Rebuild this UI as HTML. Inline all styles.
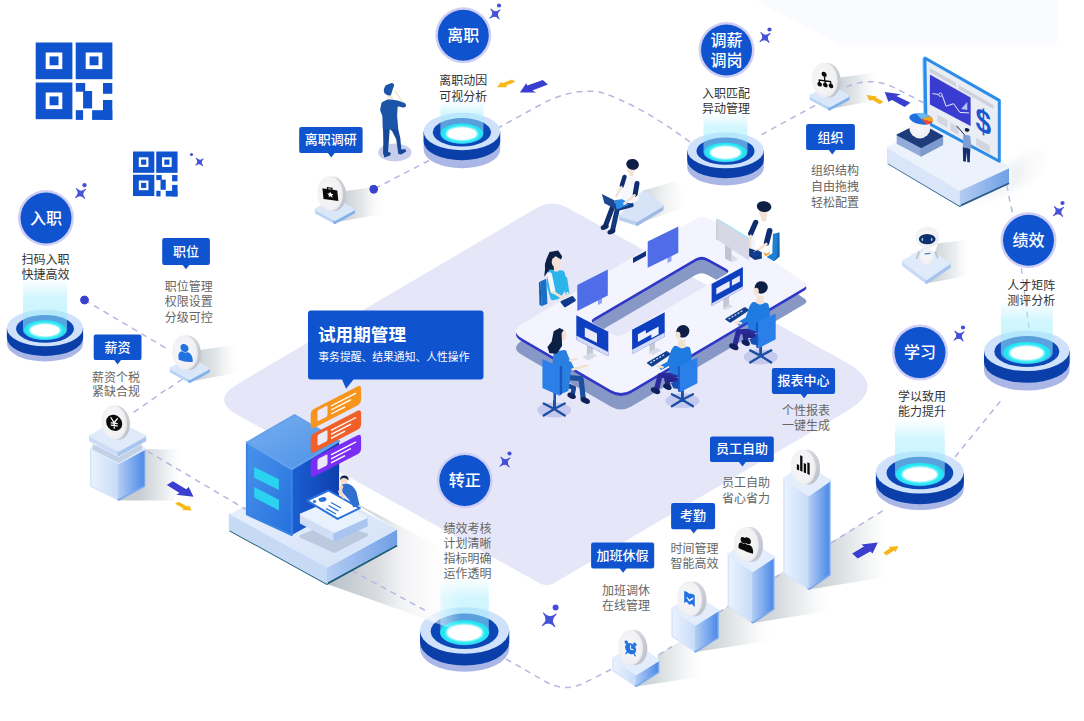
<!DOCTYPE html>
<html lang="zh"><head><meta charset="utf-8"><title>HR</title>
<style>
html,body{margin:0;padding:0;background:#fff}
body{width:1084px;height:721px;position:relative;overflow:hidden;font-family:"Liberation Sans",sans-serif}
svg{position:absolute;left:0;top:0;display:block}
.t{position:absolute;left:0;top:0;width:1084px;height:721px}
.t span{position:absolute;white-space:nowrap;line-height:1;color:transparent;overflow:hidden}
svg text.c{font-family:"Liberation Sans","Noto Sans CJK SC",sans-serif}
</style></head><body>
<div class="t"><span style="left:30.0px;top:209.7px;font-size:16px;width:34px">入职</span><span style="left:447.3px;top:27.0px;font-size:16px;width:34px">离职</span><span style="left:710.5px;top:31.7px;font-size:16px;width:34px">调薪</span><span style="left:710.5px;top:51.7px;font-size:16px;width:34px">调岗</span><span style="left:1012.5px;top:231.9px;font-size:16px;width:34px">绩效</span><span style="left:904.0px;top:344.3px;font-size:16px;width:34px">学习</span><span style="left:448.8px;top:472.2px;font-size:16px;width:34px">转正</span><span style="left:304.8px;top:132.8px;font-size:13px;width:54px">离职调研</span><span style="left:172.9px;top:244.6px;font-size:13px;width:28px">职位</span><span style="left:104.4px;top:340.8px;font-size:13px;width:28px">薪资</span><span style="left:817.6px;top:130.2px;font-size:13px;width:28px">组织</span><span style="left:777.4px;top:374.0px;font-size:13px;width:54px">报表中心</span><span style="left:716.0px;top:442.0px;font-size:13px;width:54px">员工自助</span><span style="left:680.0px;top:509.0px;font-size:13px;width:28px">考勤</span><span style="left:596.6px;top:548.2px;font-size:13px;width:54px">加班休假</span><span style="left:318.0px;top:325.1px;font-size:17px;width:90px">试用期管理</span><span style="left:318.3px;top:351.1px;font-size:10px;width:153px">事务提醒、结果通知、人性操作</span><span style="left:21.6px;top:253.8px;font-size:12px;width:50px">扫码入职</span><span style="left:21.6px;top:268.8px;font-size:12px;width:50px">快捷高效</span><span style="left:439.3px;top:74.8px;font-size:12px;width:50px">离职动因</span><span style="left:439.3px;top:90.3px;font-size:12px;width:50px">可视分析</span><span style="left:702.0px;top:87.2px;font-size:12px;width:50px">入职匹配</span><span style="left:702.0px;top:102.0px;font-size:12px;width:50px">异动管理</span><span style="left:1007.3px;top:279.7px;font-size:12px;width:50px">人才矩阵</span><span style="left:1007.3px;top:294.1px;font-size:12px;width:50px">测评分析</span><span style="left:898.1px;top:390.3px;font-size:12px;width:50px">学以致用</span><span style="left:898.1px;top:405.8px;font-size:12px;width:50px">能力提升</span><span style="left:164.8px;top:280.5px;font-size:12px;width:50px">职位管理</span><span style="left:164.8px;top:295.8px;font-size:12px;width:50px">权限设置</span><span style="left:164.8px;top:311.1px;font-size:12px;width:50px">分级可控</span><span style="left:92.1px;top:371.1px;font-size:12px;width:50px">薪资个税</span><span style="left:92.1px;top:385.9px;font-size:12px;width:50px">紧缺合规</span><span style="left:811.0px;top:164.6px;font-size:12px;width:50px">组织结构</span><span style="left:811.0px;top:180.3px;font-size:12px;width:50px">自由拖拽</span><span style="left:811.0px;top:196.0px;font-size:12px;width:50px">轻松配置</span><span style="left:782.0px;top:404.7px;font-size:12px;width:50px">个性报表</span><span style="left:782.0px;top:419.0px;font-size:12px;width:50px">一键生成</span><span style="left:722.0px;top:476.8px;font-size:12px;width:50px">员工自助</span><span style="left:722.0px;top:492.4px;font-size:12px;width:50px">省心省力</span><span style="left:670.4px;top:542.2px;font-size:12px;width:50px">时间管理</span><span style="left:670.4px;top:557.4px;font-size:12px;width:50px">智能高效</span><span style="left:602.0px;top:584.0px;font-size:12px;width:50px">加班调休</span><span style="left:602.0px;top:599.3px;font-size:12px;width:50px">在线管理</span><span style="left:443.6px;top:522.3px;font-size:12px;width:50px">绩效考核</span><span style="left:443.6px;top:537.3px;font-size:12px;width:50px">计划清晰</span><span style="left:443.6px;top:552.3px;font-size:12px;width:50px">指标明确</span><span style="left:443.6px;top:567.3px;font-size:12px;width:50px">运作透明</span></div>
<svg width="1084" height="721" viewBox="0 0 1084 721"><defs>
<linearGradient id="beam" x1="0" y1="0" x2="0" y2="1"><stop offset="0" stop-color="#b5f2ff" stop-opacity="0"/><stop offset="0.3" stop-color="#a8eefc" stop-opacity="0.5"/><stop offset="1" stop-color="#8ee9fb" stop-opacity="0.6"/></linearGradient>
<linearGradient id="colg" x1="0" y1="0" x2="1" y2="0"><stop offset="0" stop-color="#e6f0fd"/><stop offset="0.45" stop-color="#c3d9f8"/><stop offset="1" stop-color="#5a94ea"/></linearGradient>
<linearGradient id="shR" x1="0" y1="0" x2="1" y2="0"><stop offset="0" stop-color="#c6cdd1" stop-opacity="1"/><stop offset="0.3" stop-color="#d2d8db" stop-opacity="0.95"/><stop offset="0.65" stop-color="#e6e9eb" stop-opacity="0.7"/><stop offset="1" stop-color="#f8f9f9" stop-opacity="0"/></linearGradient>
<linearGradient id="srvL" x1="0" y1="0" x2="1" y2="1"><stop offset="0" stop-color="#4a93ea"/><stop offset="1" stop-color="#2471dd"/></linearGradient>
<linearGradient id="srvR" x1="0" y1="0" x2="1" y2="0"><stop offset="0" stop-color="#1c5fd2"/><stop offset="1" stop-color="#0d3fae"/></linearGradient>
<linearGradient id="srvT" x1="0" y1="0" x2="1" y2="1"><stop offset="0" stop-color="#78b0f0"/><stop offset="1" stop-color="#4a8fe7"/></linearGradient>
<linearGradient id="platR" x1="0" y1="0" x2="1" y2="0"><stop offset="0" stop-color="#b4cdf3"/><stop offset="1" stop-color="#6f9fe6"/></linearGradient>
<linearGradient id="platT" x1="0" y1="0" x2="1" y2="1"><stop offset="0" stop-color="#e9f1fc"/><stop offset="1" stop-color="#d3e2f8"/></linearGradient>
<linearGradient id="colL" x1="0" y1="0" x2="1" y2="0"><stop offset="0" stop-color="#eaf2fd"/><stop offset="1" stop-color="#c6dbf8"/></linearGradient>
<linearGradient id="colR" x1="0" y1="0" x2="1" y2="0"><stop offset="0" stop-color="#b3cdf4"/><stop offset="1" stop-color="#4f8be8"/></linearGradient>
<linearGradient id="rim" x1="0" y1="0" x2="1" y2="1"><stop offset="0" stop-color="#e4e6ea"/><stop offset="1" stop-color="#b9bdc6"/></linearGradient>
<linearGradient id="shR2" gradientUnits="userSpaceOnUse" x1="330" y1="0" x2="460" y2="0"><stop offset="0" stop-color="#b9c0c9" stop-opacity="1"/><stop offset="0.38" stop-color="#d9dde1" stop-opacity="0.97"/><stop offset="0.55" stop-color="#f1f2f4" stop-opacity="0.95"/><stop offset="0.75" stop-color="#fafafb" stop-opacity="0.8"/><stop offset="1" stop-color="#ffffff" stop-opacity="0"/></linearGradient>
<radialGradient id="coin" cx="0.45" cy="0.45" r="0.6"><stop offset="0" stop-color="#f8f8f9"/><stop offset="0.8" stop-color="#f1f1f3"/><stop offset="1" stop-color="#e3e4e8"/></radialGradient>
<filter id="blur2" x="-30%" y="-30%" width="160%" height="160%"><feGaussianBlur stdDeviation="1.1"/></filter>
<filter id="blur4" x="-30%" y="-30%" width="160%" height="160%"><feGaussianBlur stdDeviation="4"/></filter>
<linearGradient id="shD" gradientUnits="userSpaceOnUse" x1="1000" y1="0" x2="1060" y2="0"><stop offset="0" stop-color="#d9dde2" stop-opacity="0.8"/><stop offset="1" stop-color="#ffffff" stop-opacity="0"/></linearGradient><linearGradient id="shs334" gradientUnits="userSpaceOnUse" x1="342.1" y1="0" x2="384.1" y2="0"><stop offset="0" stop-color="#c3cbd0" stop-opacity="0.95"/><stop offset="0.5" stop-color="#dfe3e6" stop-opacity="0.8"/><stop offset="1" stop-color="#f6f7f8" stop-opacity="0"/></linearGradient><linearGradient id="shs189" gradientUnits="userSpaceOnUse" x1="197.0" y1="0" x2="239.0" y2="0"><stop offset="0" stop-color="#c3cbd0" stop-opacity="0.95"/><stop offset="0.5" stop-color="#dfe3e6" stop-opacity="0.8"/><stop offset="1" stop-color="#f6f7f8" stop-opacity="0"/></linearGradient><linearGradient id="shs829" gradientUnits="userSpaceOnUse" x1="836.8" y1="0" x2="878.8" y2="0"><stop offset="0" stop-color="#c3cbd0" stop-opacity="0.95"/><stop offset="0.5" stop-color="#dfe3e6" stop-opacity="0.8"/><stop offset="1" stop-color="#f6f7f8" stop-opacity="0"/></linearGradient><linearGradient id="shY" gradientUnits="userSpaceOnUse" x1="140" y1="0" x2="182" y2="0"><stop offset="0" stop-color="#c3cad0" stop-opacity="0.95"/><stop offset="0.6" stop-color="#e2e6e9" stop-opacity="0.7"/><stop offset="1" stop-color="#f6f7f8" stop-opacity="0"/></linearGradient><linearGradient id="shRb" gradientUnits="userSpaceOnUse" x1="935" y1="0" x2="970" y2="0"><stop offset="0" stop-color="#c9d0d4" stop-opacity="0.9"/><stop offset="0.6" stop-color="#e4e8ea" stop-opacity="0.7"/><stop offset="1" stop-color="#f8f9f9" stop-opacity="0"/></linearGradient><linearGradient id="shC" gradientUnits="userSpaceOnUse" x1="645" y1="0" x2="690" y2="0"><stop offset="0" stop-color="#cdd3d6" stop-opacity="0.9"/><stop offset="1" stop-color="#f8f9f9" stop-opacity="0"/></linearGradient></defs><rect width="1084" height="721" fill="#ffffff"/>
<polygon points="755,0 841,45 1057,45 1057,0" fill="#fafbfe"/>
<path d="M237.7,415.0 Q210.6,399.9 237.3,384.2 L535.4,208.7 Q551.8,199.1 568.4,208.3 L845.6,362.0 Q889.3,386.2 846.2,411.5 L553.6,583.2 Q546.7,587.2 539.7,583.3Z" fill="#e5e6f8"/>
<path d="M84.5,300 L170,350.5" fill="none" stroke="#b8b6df" stroke-width="1.5" stroke-dasharray="6 5" stroke-linecap="butt"/>
<path d="M182.5,379 L166,390.5" fill="none" stroke="#b8b6df" stroke-width="1.5" stroke-dasharray="6 5" stroke-linecap="butt"/>
<path d="M506,659 L548,683 Q566,692 584,683 L612,669" fill="none" stroke="#b8b6df" stroke-width="1.5" stroke-dasharray="6 5" stroke-linecap="butt"/>
<path d="M955,457 L1003,398" fill="none" stroke="#b8b6df" stroke-width="1.5" stroke-dasharray="6 5" stroke-linecap="butt"/>
<path d="M1007,185 Q1009,200 1013.5,216" fill="none" stroke="#b8b6df" stroke-width="1.5" stroke-dasharray="6 5" stroke-linecap="butt"/>
<path d="M1021.4,268 L1029.5,333" fill="none" stroke="#b8b6df" stroke-width="1.2" stroke-dasharray="6 5" stroke-linecap="butt"/>
<path d="M815,105.5 L759,136" fill="none" stroke="#b8b6df" stroke-width="1.5" stroke-dasharray="6 5" stroke-linecap="butt"/>
<path d="M690,142 Q640,105 600,92 Q570,88 540,105 L498,128" fill="none" stroke="#b8b6df" stroke-width="1.5" stroke-dasharray="6 5" stroke-linecap="butt"/>
<path d="M429,160.5 L374,189" fill="none" stroke="#b8b6df" stroke-width="1.5" stroke-dasharray="6 5" stroke-linecap="butt"/>
<circle cx="84.5" cy="300" r="4.2" fill="#3b40cf"/><circle cx="373.7" cy="189.3" r="4.2" fill="#3b40cf"/>
<path d="M6.9,328.0 v15.2 a38.1,18.3 0 0 0 76.2,0 v-15.2 z" fill="#a9b6e6"/><path d="M6.9,328.0 v9.7 a38.1,18.3 0 0 0 76.2,0 v-9.7 z" fill="#0a3ea8"/><ellipse cx="45.0" cy="328.0" rx="38.1" ry="18.3" fill="#cfe1fb"/><ellipse cx="45.0" cy="328.8" rx="29.0" ry="13.9" fill="#0c47b8"/><path d="M23.0,278.0 V330.0 a22.0,10.1 0 0 0 44.0,0 V278.0 z" fill="url(#beam)"/><ellipse cx="45.0" cy="330.0" rx="21.0" ry="9.7" fill="#22e6f5"/><ellipse cx="45.0" cy="330.2" rx="15.6" ry="6.8" fill="#ffffff" filter="url(#blur2)"/><ellipse cx="45.0" cy="330.2" rx="14.1" ry="6.0" fill="#ffffff"/>
<path d="M423.6,131.5 v18.0 a38.3,18.8 0 0 0 76.6,0 v-18.0 z" fill="#a9b6e6"/><path d="M423.6,131.5 v10.0 a38.3,18.8 0 0 0 76.6,0 v-10.0 z" fill="#0a3ea8"/><ellipse cx="461.9" cy="131.5" rx="38.3" ry="18.8" fill="#cfe1fb"/><ellipse cx="461.9" cy="132.3" rx="29.1" ry="14.2" fill="#0c47b8"/><path d="M440.4,100.0 V133.5 a21.5,10.3 0 0 0 43.0,0 V100.0 z" fill="url(#beam)"/><ellipse cx="461.9" cy="133.5" rx="21.1" ry="9.9" fill="#22e6f5"/><ellipse cx="461.9" cy="133.7" rx="15.7" ry="6.9" fill="#ffffff" filter="url(#blur2)"/><ellipse cx="461.9" cy="133.7" rx="14.2" ry="6.2" fill="#ffffff"/>
<path d="M687.2,150.3 v17.1 a38.3,18.0 0 0 0 76.6,0 v-17.1 z" fill="#a9b6e6"/><path d="M687.2,150.3 v9.9 a38.3,18.0 0 0 0 76.6,0 v-9.9 z" fill="#0a3ea8"/><ellipse cx="725.5" cy="150.3" rx="38.3" ry="18.0" fill="#cfe1fb"/><ellipse cx="725.5" cy="151.1" rx="29.1" ry="13.7" fill="#0c47b8"/><path d="M703.5,112.0 V152.3 a22.0,9.9 0 0 0 44.0,0 V112.0 z" fill="url(#beam)"/><ellipse cx="725.5" cy="152.3" rx="21.1" ry="9.5" fill="#22e6f5"/><ellipse cx="725.5" cy="152.5" rx="15.7" ry="6.7" fill="#ffffff" filter="url(#blur2)"/><ellipse cx="725.5" cy="152.5" rx="14.2" ry="5.9" fill="#ffffff"/>
<path d="M984.0,350.7 v19.5 a42.8,20.3 0 0 0 85.6,0 v-19.5 z" fill="#a9b6e6"/><path d="M984.0,350.7 v11.7 a42.8,20.3 0 0 0 85.6,0 v-11.7 z" fill="#0a3ea8"/><ellipse cx="1026.8" cy="350.7" rx="42.8" ry="20.3" fill="#cfe1fb"/><ellipse cx="1026.8" cy="351.5" rx="32.5" ry="15.4" fill="#0c47b8"/><path d="M1000.9,300.0 V352.7 a25.9,11.2 0 0 0 51.8,0 V300.0 z" fill="url(#beam)"/><ellipse cx="1026.8" cy="352.7" rx="23.5" ry="10.8" fill="#22e6f5"/><ellipse cx="1026.8" cy="352.9" rx="17.5" ry="7.5" fill="#ffffff" filter="url(#blur2)"/><ellipse cx="1026.8" cy="352.9" rx="15.8" ry="6.7" fill="#ffffff"/>
<path d="M875.9,472.2 v16.5 a44.0,21.3 0 0 0 88.0,0 v-16.5 z" fill="#a9b6e6"/><path d="M875.9,472.2 v10.7 a44.0,21.3 0 0 0 88.0,0 v-10.7 z" fill="#0a3ea8"/><ellipse cx="919.9" cy="472.2" rx="44.0" ry="21.3" fill="#cfe1fb"/><ellipse cx="919.9" cy="473.0" rx="33.4" ry="16.2" fill="#0c47b8"/><path d="M895.0,418.0 V474.2 a24.9,11.7 0 0 0 49.8,0 V418.0 z" fill="url(#beam)"/><ellipse cx="919.9" cy="474.2" rx="24.2" ry="11.3" fill="#22e6f5"/><ellipse cx="919.9" cy="474.4" rx="18.0" ry="7.9" fill="#ffffff" filter="url(#blur2)"/><ellipse cx="919.9" cy="474.4" rx="16.3" ry="7.0" fill="#ffffff"/>
<path d="M420.0,630.5 v18.0 a44.6,23.3 0 0 0 89.2,0 v-18.0 z" fill="#a9b6e6"/><path d="M420.0,630.5 v11.7 a44.6,23.3 0 0 0 89.2,0 v-11.7 z" fill="#0a3ea8"/><ellipse cx="464.6" cy="630.5" rx="44.6" ry="23.3" fill="#cfe1fb"/><ellipse cx="464.6" cy="631.3" rx="33.9" ry="17.7" fill="#0c47b8"/><path d="M440.4,576.0 V632.5 a24.2,12.8 0 0 0 48.4,0 V576.0 z" fill="url(#beam)"/><ellipse cx="464.6" cy="632.5" rx="24.5" ry="12.3" fill="#22e6f5"/><ellipse cx="464.6" cy="632.7" rx="18.3" ry="8.6" fill="#ffffff" filter="url(#blur2)"/><ellipse cx="464.6" cy="632.7" rx="16.5" ry="7.7" fill="#ffffff"/>
<polygon points="657.6,655.0 703.6,627.1 703.6,676.4 636.1,686.4 657.6,672.8" fill="url(#shR)"/>
<polygon points="717.1,613.0 773.1,578.9 773.1,640.1 695.6,652.1 717.1,639.4" fill="url(#shR)"/>
<polygon points="772.8,578.0 831.8,542.0 831.8,610.4 752.7,623.0 772.8,609.0" fill="url(#shR)"/>
<polygon points="828.9,543.6 889.9,506.4 889.9,576.5 809.0,589.5 828.9,574.5" fill="url(#shR)"/>
<path d="M658.6,655 L672,646.5 M718,613 L728,606.5 M774.5,578 L784.5,571.5 M830.8,543 L884,510" fill="none" stroke="#b8b6df" stroke-width="1.5" stroke-dasharray="6 5" stroke-linecap="butt"/>
<polygon points="613.8,658.4 636.1,673.7 636.1,685.4 613.8,670.1" fill="url(#colL)" stroke="#d6e4fa" stroke-width="3.0" stroke-linejoin="round"/><polygon points="636.1,673.7 657.8,660.2 657.8,671.9 636.1,685.4" fill="url(#colR)" stroke="#7aa8ee" stroke-width="3.0" stroke-linejoin="round"/><polygon points="613.8,658.4 636.1,673.7 636.1,685.4 613.8,670.1" fill="url(#colL)"/><polygon points="635.6,673.7 657.8,660.2 657.8,671.9 635.6,685.4" fill="url(#colR)"/><polygon points="613.8,658.4 635.5,644.9 657.8,660.2 636.1,673.7" fill="#e3edfc" stroke="#e3edfc" stroke-width="3.0" stroke-linejoin="round"/>
<polygon points="672.9,608.8 695.6,624.1 695.6,651.1 672.9,635.8" fill="url(#colL)" stroke="#d6e4fa" stroke-width="3.0" stroke-linejoin="round"/><polygon points="695.6,624.1 717.3,610.6 717.3,637.6 695.6,651.1" fill="url(#colR)" stroke="#7aa8ee" stroke-width="3.0" stroke-linejoin="round"/><polygon points="672.9,608.8 695.6,624.1 695.6,651.1 672.9,635.8" fill="url(#colL)"/><polygon points="695.1,624.1 717.3,610.6 717.3,637.6 695.1,651.1" fill="url(#colR)"/><polygon points="672.9,608.8 694.6,595.3 717.3,610.6 695.6,624.1" fill="#e3edfc" stroke="#e3edfc" stroke-width="3.0" stroke-linejoin="round"/>
<polygon points="729.1,554.4 752.7,570.5 752.7,622.0 729.1,605.9" fill="url(#colL)" stroke="#d6e4fa" stroke-width="3.0" stroke-linejoin="round"/><polygon points="752.7,570.5 773.0,557.2 773.0,608.7 752.7,622.0" fill="url(#colR)" stroke="#7aa8ee" stroke-width="3.0" stroke-linejoin="round"/><polygon points="729.1,554.4 752.7,570.5 752.7,622.0 729.1,605.9" fill="url(#colL)"/><polygon points="752.2,570.5 773.0,557.2 773.0,608.7 752.2,622.0" fill="url(#colR)"/><polygon points="729.1,554.4 749.4,541.1 773.0,557.2 752.7,570.5" fill="#e3edfc" stroke="#e3edfc" stroke-width="3.0" stroke-linejoin="round"/>
<polygon points="784.7,478.8 809.0,494.5 809.0,588.5 784.7,572.8" fill="url(#colL)" stroke="#d6e4fa" stroke-width="3.0" stroke-linejoin="round"/><polygon points="809.0,494.5 829.1,480.5 829.1,574.5 809.0,588.5" fill="url(#colR)" stroke="#7aa8ee" stroke-width="3.0" stroke-linejoin="round"/><polygon points="784.7,478.8 809.0,494.5 809.0,588.5 784.7,572.8" fill="url(#colL)"/><polygon points="808.5,494.5 829.1,480.5 829.1,574.5 808.5,588.5" fill="url(#colR)"/><polygon points="784.7,478.8 804.8,464.8 829.1,480.5 809.0,494.5" fill="#e3edfc" stroke="#e3edfc" stroke-width="3.0" stroke-linejoin="round"/>
<g transform="rotate(-5.0 630.6 647.5)"><ellipse cx="634.9" cy="647.9" rx="12.4" ry="17.5" fill="url(#rim)"/><ellipse cx="630.6" cy="647.5" rx="12.4" ry="17.5" fill="url(#coin)"/></g>
<g transform="rotate(-5.0 689.7 598.9)"><ellipse cx="694.0" cy="599.3" rx="12.4" ry="17.5" fill="url(#rim)"/><ellipse cx="689.7" cy="598.9" rx="12.4" ry="17.5" fill="url(#coin)"/></g>
<g transform="rotate(-5.0 746.3 544.4)"><ellipse cx="750.6" cy="544.8" rx="12.4" ry="17.5" fill="url(#rim)"/><ellipse cx="746.3" cy="544.4" rx="12.4" ry="17.5" fill="url(#coin)"/></g>
<g transform="rotate(-5.0 803.3 467.2)"><ellipse cx="807.6" cy="467.6" rx="12.4" ry="17.5" fill="url(#rim)"/><ellipse cx="803.3" cy="467.2" rx="12.4" ry="17.5" fill="url(#coin)"/></g>
<polygon points="350,500 460,557 460,632 420,617 327,584 397,546 397,530" fill="url(#shR2)"/>
<path d="M352,570.5 L428,612" fill="none" stroke="#b8b6df" stroke-width="1.5" stroke-dasharray="6 5" stroke-linecap="butt"/>
<polyline points="229.8,530.2 326.9,583.8 397.1,545.4" fill="none" stroke="#1d5d78" stroke-width="2.2" stroke-linejoin="round"/><polygon points="229.8,514.4 326.9,567.8 326.9,582.8 229.8,529.4" fill="#c6daf6" stroke="#c6daf6" stroke-width="2.0" stroke-linejoin="round"/><polygon points="326.9,567.8 397.1,529.6 397.1,544.6 326.9,582.8" fill="url(#platR)" stroke="none" stroke-width="2.0" stroke-linejoin="round"/><polygon points="229.8,514.4 300.0,476.2 397.1,529.6 326.9,567.8" fill="url(#platT)" stroke="none" stroke-width="2.0" stroke-linejoin="round"/>
<polygon points="300.9,536.5 333.0,523.5 366.6,535.0 334.5,551.5" fill="#bccadf" stroke="#bccadf" stroke-width="3" stroke-linejoin="round"/>
<polygon points="291.8,469.2 339.1,441.1 339.1,509.0 291.8,535.0" fill="url(#srvR)" /><polygon points="246.9,442.6 291.8,469.2 291.8,535.0 246.9,514.4" fill="url(#srvL)" stroke="#3883e4" stroke-width="2" stroke-linejoin="round"/><polygon points="246.9,442.6 294.5,415.0 339.1,441.1 291.8,469.2" fill="url(#srvT)" stroke="#64a2ee" stroke-width="2" stroke-linejoin="round"/><path d="M254.2,467.0 L278.9,479.2 L278.9,489.9 L254.2,477.7Z" fill="#2bd3f0"/><path d="M254.2,486.9 L278.9,499.7 L278.9,510.4 L254.2,497.6Z" fill="#2bd3f0"/>
<polygon points="300.9,514.4 334.5,531.8 334.5,540.3 300.9,522.9" fill="#cfdef6" stroke="#cfdef6" stroke-width="2.0" stroke-linejoin="round"/><polygon points="334.5,531.8 366.6,517.4 366.6,525.9 334.5,540.3" fill="#a9c5ef" stroke="#a9c5ef" stroke-width="2.0" stroke-linejoin="round"/><polygon points="300.9,514.4 333.0,500.6 366.6,517.4 334.5,531.8" fill="#e9f1fc" stroke="#e9f1fc" stroke-width="2.0" stroke-linejoin="round"/>
<polygon points="307.0,500.6 328.4,490.5 359.8,508.2 337.6,518.9" fill="#ffffff" stroke="#2a72dd" stroke-width="2" stroke-linejoin="round"/>
<ellipse cx="322.5" cy="499.5" rx="4" ry="2.3" fill="#2a72dd" transform="rotate(-8 322.5 499.5)"/>
<circle cx="314.5" cy="501.5" r="1.6" fill="#2a72dd"/>
<path d="M331,502.5 l10,5.5 M328.5,505.5 l10,5.5 M326,508.5 l10,5.5" stroke="#2a72dd" stroke-width="1.4" fill="none"/>
<path d="M341.5,485 q3,-3 7,-1 q5,1.5 8,8 l3,13 l-6,2.5 l-4,-7 l-7,-8 z" fill="#2f6fd0"/>
<path d="M341,484 l-3,8 l5,7 l2,-1.5 l-3.5,-6 l2,-5z" fill="#f1d6c4"/>
<circle cx="343.6" cy="480.6" r="3.6" fill="#f4dccb"/><path d="M340,480 q0,-5 5,-4.5 q4,0.5 3.5,5 q-2,-3 -5,-2.5 q-2,0 -3.5,2z" fill="#0f2350"/>
<path d="M310.7,414.6 Q310.7,410.6 314.3,408.8 L357.5,386.4 Q361.1,384.6 361.1,388.6 L361.1,399.6 Q361.1,403.6 357.5,405.4 L314.3,427.8 Q310.7,429.6 310.7,425.6Z" fill="#f7941e"/>
<path d="M317.5,412.0 Q317.5,410.5 318.8,409.8 L326.2,406.0 Q327.5,405.3 327.5,406.8 L327.5,414.8 Q327.5,416.3 326.2,417.0 L318.8,420.8 Q317.5,421.5 317.5,420.0Z" fill="#ebe8f7"/>
<path d="M331,406.0 l25,-12.9 M331,410.0 l20,-10.3 M331,414.0 l14,-7.2" stroke="#fff" stroke-width="1.4" fill="none"/>
<path d="M310.7,439.0 Q310.7,435.0 314.3,433.2 L357.5,410.8 Q361.1,409.0 361.1,413.0 L361.1,424.0 Q361.1,428.0 357.5,429.8 L314.3,452.2 Q310.7,454.0 310.7,450.0Z" fill="#f2602a"/>
<path d="M317.5,436.4 Q317.5,434.9 318.8,434.2 L326.2,430.4 Q327.5,429.7 327.5,431.2 L327.5,439.2 Q327.5,440.7 326.2,441.4 L318.8,445.2 Q317.5,445.9 317.5,444.4Z" fill="#ebe8f7"/>
<path d="M331,430.4 l25,-12.9 M331,434.4 l20,-10.3 M331,438.4 l14,-7.2" stroke="#fff" stroke-width="1.4" fill="none"/>
<path d="M310.7,463.4 Q310.7,459.4 314.3,457.6 L357.5,435.2 Q361.1,433.4 361.1,437.4 L361.1,448.4 Q361.1,452.4 357.5,454.2 L314.3,476.6 Q310.7,478.4 310.7,474.4Z" fill="#7a2df5"/>
<path d="M317.5,460.8 Q317.5,459.3 318.8,458.6 L326.2,454.8 Q327.5,454.1 327.5,455.6 L327.5,463.6 Q327.5,465.1 326.2,465.8 L318.8,469.6 Q317.5,470.3 317.5,468.8Z" fill="#ebe8f7"/>
<path d="M331,454.8 l25,-12.9 M331,458.8 l20,-10.3 M331,462.8 l14,-7.2" stroke="#fff" stroke-width="1.4" fill="none"/>
<path d="M522.1,338.5 Q510.0,331.5 522.0,324.2 L692.8,220.2 Q703.0,214.0 713.0,220.7 L804.0,281.7 Q809.0,285.0 803.8,288.1 L631.3,389.9 Q621.0,396.0 610.6,390.0Z M594.2,323.9 Q589.0,321.0 594.2,318.0 L695.6,258.5 Q701.6,255.0 707.7,258.4 L725.8,268.4 Q731.0,271.3 725.8,274.3 L623.6,334.3 Q618.4,337.3 613.2,334.4Z" fill="#8798c7" fill-rule="evenodd" transform="translate(0,16.5)"/>
<path d="M522.1,338.5 Q510.0,331.5 522.0,324.2 L692.8,220.2 Q703.0,214.0 713.0,220.7 L804.0,281.7 Q809.0,285.0 803.8,288.1 L631.3,389.9 Q621.0,396.0 610.6,390.0Z M594.2,323.9 Q589.0,321.0 594.2,318.0 L695.6,258.5 Q701.6,255.0 707.7,258.4 L725.8,268.4 Q731.0,271.3 725.8,274.3 L623.6,334.3 Q618.4,337.3 613.2,334.4Z" fill="#2f38c6" fill-rule="evenodd" transform="translate(0,3)"/>
<path d="M522.1,338.5 Q510.0,331.5 522.0,324.2 L692.8,220.2 Q703.0,214.0 713.0,220.7 L804.0,281.7 Q809.0,285.0 803.8,288.1 L631.3,389.9 Q621.0,396.0 610.6,390.0Z M594.2,323.9 Q589.0,321.0 594.2,318.0 L695.6,258.5 Q701.6,255.0 707.7,258.4 L725.8,268.4 Q731.0,271.3 725.8,274.3 L623.6,334.3 Q618.4,337.3 613.2,334.4Z" fill="#f3f4fd" fill-rule="evenodd"/>
<polygon points="772.4,234.1 779.0,232.4 779.5,256.6 774.0,261.2 766.6,256.9 772.4,253.2" fill="#1f7fd0" />
<polygon points="774.0,261.2 779.5,256.6 779.5,232.4 777.9,232.9 776.9,255.7" fill="#1566b0" />
<polygon points="749.1,247.4 761.6,252.4 761.9,258.6 754.9,259.9 748.6,255.7" fill="#103a80" />
<polygon points="762.4,251.6 769.1,249.9 769.9,254.1 765.7,256.2" fill="#f5a020" />
<path d="M753.4,222.7 Q754.1,220.8 756.0,221.4 L771.3,226.8 Q773.2,227.4 773.1,229.4 L772.5,242.9 Q772.4,244.9 771.6,246.7 L769.0,252.2 Q768.2,254.1 766.3,253.5 L751.8,249.1 Q749.9,248.6 749.9,246.6 L749.9,235.3 Q749.9,233.3 750.5,231.4Z" fill="#f4f5fb" />
<path d="M757.0,224.4 Q757.4,222.4 759.3,223.1 L770.7,227.3 Q772.5,227.9 772.4,229.9 L771.8,242.6 Q771.7,244.6 770.9,246.4 L768.7,251.1 Q767.9,252.9 766.0,252.3 L756.8,249.6 Q754.9,249.1 754.9,247.1 L754.9,235.6 Q754.9,233.6 755.3,231.6Z" fill="#ffffff" />
<polyline points="755.7,222.4 750.7,233.6" fill="none" stroke="#0f2c6e" stroke-width="5.2" stroke-linecap="round" stroke-linejoin="round"/>
<polyline points="769.6,230.8 766.6,242.9" fill="none" stroke="#0f2c6e" stroke-width="5.6" stroke-linecap="round" stroke-linejoin="round"/>
<polyline points="766.2,244.1 754.9,252.4" fill="none" stroke="#f3e2d3" stroke-width="2.8" stroke-linecap="round" stroke-linejoin="round"/>
<polyline points="750.7,235.8 749.9,247.4" fill="none" stroke="#f3e2d3" stroke-width="2.4" stroke-linecap="round" stroke-linejoin="round"/>
<polygon points="760.2,213.3 766.9,215.0 766.2,221.6 761.2,220.8" fill="#f3e2d3" />
<ellipse cx="763.2" cy="212.5" rx="4.2" ry="5.0" fill="#f3e2d3" transform="rotate(0.0 763.2 212.5)" />
<ellipse cx="764.1" cy="206.6" rx="7.3" ry="5.4" fill="#0d1f45" transform="rotate(8.0 764.1 206.6)" />
<path d="M750.9,254.7 Q749.9,254.1 751.0,253.5 L756.4,250.5 Q757.4,249.9 758.4,250.5 L761.4,252.3 Q762.4,252.9 761.4,253.5 L755.9,256.8 Q754.9,257.4 753.9,256.7Z" fill="#12408f" />
<polygon points="540.5,281.3 546.3,278.7 547.4,303.7 541.6,306.3" fill="#1a6fc8" />
<polygon points="540.5,281.3 541.6,306.3 539.5,304.7 538.9,282.6" fill="#1558a8" />
<ellipse cx="551.1" cy="264.2" rx="6.0" ry="8.5" fill="#0d1f45" transform="rotate(20.0 551.1 264.2)" />
<path d="M548.1,271.5 Q548.4,269.5 550.4,269.6 L562.2,270.6 Q564.2,270.8 564.7,272.7 L567.4,284.6 Q567.9,286.6 566.8,288.2 L560.6,297.3 Q559.5,298.9 557.5,299.3 L553.0,300.2 Q551.1,300.5 550.5,298.6 L546.9,285.9 Q546.3,283.9 546.6,282.0Z" fill="#2bb5ea" />
<polyline points="549.5,274.7 552.9,291.1" fill="none" stroke="#f4f6ff" stroke-width="5.0" stroke-linecap="round" stroke-linejoin="round"/>
<polyline points="565.3,278.7 567.4,293.2" fill="none" stroke="#2bb5ea" stroke-width="4.0" stroke-linecap="round" stroke-linejoin="round"/>
<polyline points="553.2,292.1 564.2,298.9" fill="none" stroke="#f3e2d3" stroke-width="2.6" stroke-linecap="round" stroke-linejoin="round"/>
<polyline points="567.4,293.2 568.7,298.9" fill="none" stroke="#f3e2d3" stroke-width="2.4" stroke-linecap="round" stroke-linejoin="round"/>
<polygon points="553.7,266.8 558.9,266.8 558.4,271.6 554.2,271.6" fill="#f3e2d3" />
<ellipse cx="556.3" cy="262.1" rx="4.6" ry="5.4" fill="#f3e2d3" transform="rotate(0.0 556.3 262.1)" />
<path d="M546.3,259.5 L549.5,252.1 L558.2,250.5 L562.1,256.3 L561.1,259.5 L555.5,256.3 L551.1,258.4 L549.5,269.5 L544.2,276.8 L545.3,266.8Z" fill="#0d1f45"/>
<path d="M560.7,302.5 Q560.0,301.6 561.1,301.1 L571.5,296.3 Q572.6,295.8 573.4,296.7 L575.6,299.6 Q576.3,300.5 575.3,301.2 L565.8,307.0 Q564.7,307.6 564.0,306.7Z" fill="#0d3a8a" />
<path d="M598.0,289.0 v16.0 l4,-2 v-16.0 z" fill="#8fa3f2"/>
<path d="M577.3,284.9 L607.8,269.6 L607.8,295.6 L577.3,310.9Z" fill="#4f6de6"/>
<path d="M633.0,258.0 L646.0,251.0 L646.0,256.0 L633.0,263.0Z" fill="#0d2f80"/>
<path d="M667.5,246.0 v17.0 l4,-2 v-17.0 z" fill="#8fa3f2"/>
<path d="M647.7,241.4 L678.3,226.5 L678.3,252.8 L647.7,267.7Z" fill="#4f6de6"/>
<polygon points="725.0,243.2 731.6,246.6 731.6,261.9 725.0,258.6" fill="#c2c4d3" />
<polygon points="731.6,254.9 737.4,257.9 737.4,259.9 731.6,261.9" fill="#d9dbe6" />
<polygon points="717.5,219.1 749.1,238.3 749.1,260.7 717.5,239.9" fill="#d6d8e6" />
<polygon points="716.3,220.1 717.5,219.1 717.5,239.9 716.3,239.3" fill="#b9bccc" />
<polyline points="717.5,219.1 749.1,238.3" fill="none" stroke="#8fe9f2" stroke-width="1.0" stroke-linecap="round" stroke-linejoin="round"/>
<polygon points="586.9,343.4 593.0,346.4 593.0,358.6 586.9,356.2" fill="#c4c7d4" />
<polygon points="582.4,357.1 591.5,352.5 597.0,355.6 587.9,360.5" fill="#d8dae4" />
<polygon points="576.3,315.3 608.3,331.8 608.3,356.2 576.3,339.7" fill="#0e3fc0" />
<polygon points="576.3,335.4 608.3,351.9 608.3,356.2 576.3,339.7" fill="#d3dbf8" />
<polygon points="584.8,327.5 597.0,333.6 597.0,342.8 584.8,336.7" fill="#e9ebfb" />
<polygon points="649.5,343.4 655.0,340.9 655.0,351.0 649.5,353.4" fill="#c4c7d4" />
<polygon points="648.0,351.9 657.1,348.0 661.7,350.4 652.5,355.0" fill="#d8dae4" />
<polygon points="632.1,329.7 664.7,312.3 664.7,336.7 632.1,354.1" fill="#0e3fc0" />
<polygon points="632.1,349.8 664.7,332.4 664.7,336.7 632.1,354.1" fill="#d3dbf8" />
<path d="M637.9,334.2 L645.8,330.0 L645.8,333.6 L658.6,326.6 L658.6,334.2 L651.3,338.2 L651.3,334.5 L637.9,341.9Z" fill="#eef0fd"/>
<polygon points="723.3,298.2 729.1,295.2 729.1,306.5 723.3,309.0" fill="#c4c7d4" />
<polygon points="721.6,308.5 730.0,304.8 733.3,306.5 725.0,310.1" fill="#d8dae4" />
<polygon points="711.6,284.0 742.9,266.9 742.9,288.5 711.6,306.0" fill="#0e3fc0" />
<polygon points="711.6,303.6 742.9,286.2 742.9,288.5 711.6,306.0" fill="#d3dbf8" />
<polygon points="716.3,288.2 729.6,281.0 729.6,287.3 716.3,294.5" fill="#e9ebfb" />
<polygon points="731.9,279.9 739.9,275.5 739.9,281.5 731.9,285.8" fill="#e9ebfb" />
<path d="M647.3,363.6 Q646.3,362.9 647.4,362.3 L665.6,351.4 Q666.6,350.7 667.6,351.4 L670.3,353.4 Q671.3,354.1 670.3,354.7 L653.0,366.2 Q652.0,366.9 651.0,366.2Z" fill="#12408f" />
<polyline points="650.3,362.9 665.0,354.2" fill="none" stroke="#dfe6fb" stroke-width="1.2" stroke-dasharray="2 1.5"/>
<path d="M725.6,319.7 Q724.6,319.0 725.7,318.4 L743.9,307.5 Q744.9,306.8 745.9,307.5 L748.6,309.5 Q749.6,310.2 748.6,310.8 L731.3,322.3 Q730.3,323.0 729.3,322.3Z" fill="#12408f" />
<polyline points="728.6,319.0 743.3,310.3" fill="none" stroke="#dfe6fb" stroke-width="1.2" stroke-dasharray="2 1.5"/>
<ellipse cx="682.4" cy="400.8" rx="17" ry="7.5" fill="#c6c9ee"/>
<path d="M682.4,399.8 v-8 M682.4,399.8 l-10.5,6.5 M682.4,399.8 l10.5,-5.5 M682.4,399.8 l-10.5,-5.5 M682.4,399.8 l10.5,6.5" stroke="#1b4ea5" stroke-width="2.4" stroke-linecap="round" fill="none"/>
<polyline points="675.8,374.9 660.0,375.7 656.6,389.0" fill="none" stroke="#2b2a9a" stroke-width="5.2" stroke-linecap="round" stroke-linejoin="round"/>
<polyline points="675.8,379.9 666.6,379.0 668.3,386.5" fill="none" stroke="#26258a" stroke-width="5.0" stroke-linecap="round" stroke-linejoin="round"/>
<ellipse cx="655.5" cy="390.7" rx="5.0" ry="2.8" fill="#10205a" transform="rotate(25.0 655.5 390.7)" />
<ellipse cx="667.4" cy="386.8" rx="4.5" ry="2.6" fill="#10205a" transform="rotate(25.0 667.4 386.8)" />
<polygon points="670.8,383.2 681.6,378.2 683.6,389.8 673.3,388.2" fill="#174db5" />
<polyline points="682.4,389.8 682.4,399.5" fill="none" stroke="#1d4fa8" stroke-width="2.6" stroke-linecap="round" stroke-linejoin="round"/>
<polyline points="673.3,351.6 669.1,363.2 661.6,367.4" fill="none" stroke="#1f7be0" stroke-width="4.5" stroke-linecap="round" stroke-linejoin="round"/>
<polyline points="662.5,367.2 657.5,366.2" fill="none" stroke="#f3e2d3" stroke-width="2.6" stroke-linecap="round" stroke-linejoin="round"/>
<path d="M673.3,347.0 Q674.1,345.7 675.6,345.9 L688.4,346.8 Q689.9,346.9 690.2,348.4 L691.6,354.3 Q691.9,355.7 691.7,357.2 L690.1,368.4 Q689.9,369.9 688.6,370.7 L680.9,375.4 Q679.6,376.2 678.2,375.7 L671.7,373.7 Q670.3,373.2 670.0,371.7 L668.6,363.9 Q668.3,362.4 668.6,360.9 L670.9,351.4 Q671.3,349.9 672.1,348.7Z" fill="#1f7be0" />
<polygon points="678.6,339.1 685.3,339.9 685.7,347.4 681.6,348.6 677.4,346.6" fill="#f3e2d3" />
<ellipse cx="682.9" cy="331.3" rx="6.6" ry="6.2" fill="#0d1f45" transform="rotate(-20.0 682.9 331.3)" />
<ellipse cx="677.9" cy="335.3" rx="2.6" ry="3.6" fill="#f3e2d3" transform="rotate(0.0 677.9 335.3)" />
<polygon points="677.9,366.5 679.9,365.7 679.9,392.3 677.9,391.2" fill="#1a56c0" />
<polygon points="679.9,365.7 697.4,357.4 697.4,383.2 679.9,392.3" fill="#2a80e8" />
<ellipse cx="760.7" cy="356.9" rx="17" ry="7.5" fill="#c6c9ee"/>
<path d="M760.7,355.9 v-8 M760.7,355.9 l-10.5,6.5 M760.7,355.9 l10.5,-5.5 M760.7,355.9 l-10.5,-5.5 M760.7,355.9 l10.5,6.5" stroke="#1b4ea5" stroke-width="2.4" stroke-linecap="round" fill="none"/>
<polyline points="754.1,331.0 738.3,331.8 734.9,345.1" fill="none" stroke="#2b2a9a" stroke-width="5.2" stroke-linecap="round" stroke-linejoin="round"/>
<polyline points="754.1,336.0 744.9,335.1 746.6,342.6" fill="none" stroke="#26258a" stroke-width="5.0" stroke-linecap="round" stroke-linejoin="round"/>
<ellipse cx="733.8" cy="346.8" rx="5.0" ry="2.8" fill="#10205a" transform="rotate(25.0 733.8 346.8)" />
<ellipse cx="745.7" cy="342.9" rx="4.5" ry="2.6" fill="#10205a" transform="rotate(25.0 745.7 342.9)" />
<polygon points="749.1,339.3 759.9,334.3 761.9,345.9 751.6,344.3" fill="#174db5" />
<polyline points="760.7,345.9 760.7,355.6" fill="none" stroke="#1d4fa8" stroke-width="2.6" stroke-linecap="round" stroke-linejoin="round"/>
<polyline points="751.6,307.7 747.4,319.3 739.9,323.5" fill="none" stroke="#1f7be0" stroke-width="4.5" stroke-linecap="round" stroke-linejoin="round"/>
<polyline points="740.8,323.3 735.8,322.3" fill="none" stroke="#f3e2d3" stroke-width="2.6" stroke-linecap="round" stroke-linejoin="round"/>
<path d="M751.6,303.1 Q752.4,301.8 753.9,302.0 L766.7,302.9 Q768.2,303.0 768.5,304.5 L769.9,310.4 Q770.2,311.8 770.0,313.3 L768.4,324.5 Q768.2,326.0 766.9,326.8 L759.2,331.5 Q757.9,332.3 756.5,331.8 L750.0,329.8 Q748.6,329.3 748.3,327.8 L746.9,320.0 Q746.6,318.5 746.9,317.0 L749.2,307.5 Q749.6,306.0 750.4,304.8Z" fill="#1f7be0" />
<polygon points="756.9,295.2 763.6,296.0 764.0,303.5 759.9,304.7 755.7,302.7" fill="#f3e2d3" />
<ellipse cx="761.2" cy="287.4" rx="6.6" ry="6.2" fill="#0d1f45" transform="rotate(-20.0 761.2 287.4)" />
<ellipse cx="756.2" cy="291.4" rx="2.6" ry="3.6" fill="#f3e2d3" transform="rotate(0.0 756.2 291.4)" />
<polygon points="756.2,322.6 758.2,321.8 758.2,348.4 756.2,347.3" fill="#1a56c0" />
<polygon points="758.2,321.8 775.7,313.5 775.7,339.3 758.2,348.4" fill="#2a80e8" />
<ellipse cx="554.2" cy="410.0" rx="17" ry="7.5" fill="#c6c9ee"/>
<path d="M554.2,409.0 v-8 M554.2,409.0 l-10.5,6.5 M554.2,409.0 l10.5,-5.5 M554.2,409.0 l-10.5,-5.5 M554.2,409.0 l10.5,6.5" stroke="#1b4ea5" stroke-width="2.4" stroke-linecap="round" fill="none"/>
<polyline points="566.1,377.4 581.1,378.7 583.2,398.4" fill="none" stroke="#1d4fa0" stroke-width="5.2" stroke-linecap="round" stroke-linejoin="round"/>
<polyline points="567.4,385.3 573.9,387.9 572.6,394.5" fill="none" stroke="#1a4590" stroke-width="4.6" stroke-linecap="round" stroke-linejoin="round"/>
<ellipse cx="585.3" cy="400.5" rx="5.0" ry="2.8" fill="#10205a" transform="rotate(25.0 585.3 400.5)" />
<ellipse cx="571.6" cy="395.8" rx="4.5" ry="2.6" fill="#10205a" transform="rotate(25.0 571.6 395.8)" />
<polyline points="554.7,391.8 554.7,407.6" fill="none" stroke="#1d4fa8" stroke-width="2.6" stroke-linecap="round" stroke-linejoin="round"/>
<path d="M553.5,353.6 Q553.7,351.6 555.7,351.3 L564.1,350.0 Q566.1,349.7 566.6,351.6 L570.7,364.9 Q571.3,366.8 571.1,368.8 L568.9,389.1 Q568.7,391.1 566.8,391.7 L561.3,393.8 Q559.5,394.5 558.6,392.7 L551.9,379.2 Q551.1,377.4 551.3,375.4Z" fill="#2a7fe0" />
<polyline points="566.1,356.3 572.6,369.5" fill="none" stroke="#2a7fe0" stroke-width="4.0" stroke-linecap="round" stroke-linejoin="round"/>
<polyline points="572.6,369.5 587.1,365.5" fill="none" stroke="#f3e2d3" stroke-width="2.6" stroke-linecap="round" stroke-linejoin="round"/>
<polyline points="570.0,360.3 576.6,358.9" fill="none" stroke="#f3e2d3" stroke-width="2.4" stroke-linecap="round" stroke-linejoin="round"/>
<ellipse cx="562.1" cy="335.3" rx="4.4" ry="5.6" fill="#f3e2d3" transform="rotate(0.0 562.1 335.3)" />
<path d="M553.7,331.3 L559.5,327.9 L563.7,330.0 L561.6,333.2 L562.1,345.8 L556.8,353.7 L549.5,353.2 L547.4,347.1 L551.6,341.8Z" fill="#0d1f45"/>
<polygon points="559.5,366.8 562.1,365.5 562.1,393.7 559.5,395.8" fill="#1a56c0" />
<polygon points="542.4,358.9 559.5,366.8 559.5,395.8 542.4,387.9" fill="#2a80e8" />
<polygon points="1009.0,164.8 1044.7,144.8 1049.7,169.8 1014.8,187.3 964.8,203.5 1009.0,182.8" fill="url(#shD)" filter="url(#blur4)"/>
<polyline points="888.0,163.1 959.9,205.8 1009.0,183.1" fill="none" stroke="#2a5f8a" stroke-width="2.2" stroke-linejoin="round"/><polygon points="888.0,147.3 959.9,189.8 959.9,204.8 888.0,162.3" fill="#d9e5f8" stroke="#d9e5f8" stroke-width="2.0" stroke-linejoin="round"/><polygon points="959.9,189.8 1009.0,167.3 1009.0,182.3 959.9,204.8" fill="url(#platR)" stroke="none" stroke-width="2.0" stroke-linejoin="round"/><polygon points="888.0,147.3 937.1,124.9 1009.0,167.3 959.9,189.8" fill="#ecf2fc" stroke="#ecf2fc" stroke-width="2.0" stroke-linejoin="round"/>
<polygon points="897.4,134.9 921.2,147.3 921.2,155.8 897.4,143.4" fill="#93abd9" stroke="#93abd9" stroke-width="1.5" stroke-linejoin="round"/><polygon points="921.2,147.3 942.4,136.1 942.4,144.6 921.2,155.8" fill="#7e9acd" stroke="#7e9acd" stroke-width="1.5" stroke-linejoin="round"/><polygon points="897.4,134.9 919.9,123.6 942.4,136.1 921.2,147.3" fill="#1e3c7c" stroke="#1e3c7c" stroke-width="1.5" stroke-linejoin="round"/>
<polygon points="922.4,58.5 924.4,57.0 925.4,122.4 923.4,123.4" fill="#8cc4f4" />
<polygon points="924.9,58.0 999.3,100.4 999.3,161.3 925.9,121.9" fill="#e9edf6" stroke="#2b8de8" stroke-width="3" stroke-linejoin="round"/>
<polygon points="929.9,68.0 956.1,82.9 956.1,86.9 929.9,72.0" fill="#cfd2dc" />
<polygon points="958.6,84.9 993.5,104.9 993.5,108.9 958.6,88.9" fill="#cfd2dc" />
<polygon points="929.9,74.4 970.6,97.4 970.6,126.1 929.9,104.4" fill="#3a3bd0" />
<polyline points="932.9,93.7 937.9,94.4" fill="none" stroke="#fff" stroke-width="0.9" stroke-linecap="round" stroke-linejoin="round"/>
<polyline points="942.4,95.9 946.1,106.2 953.6,103.7 959.9,112.4 968.6,112.9" fill="none" stroke="#fff" stroke-width="0.9" stroke-linecap="round" stroke-linejoin="round"/>
<circle cx="940.4" cy="94.7" r="1.7" fill="none" stroke="#fff" stroke-width="0.8"/>
<polygon points="961.1,108.9 967.3,101.9 967.3,109.9" fill="#b9c2f2" />
<polygon points="937.4,114.4 947.4,119.9 947.4,127.4 937.4,121.9" fill="#d3d6df" />
<polygon points="950.4,122.4 958.6,126.9 958.6,134.9 950.4,130.4" fill="#d3d6df" />
<polygon points="976.1,137.9 989.8,145.6 989.8,153.6 976.1,145.8" fill="#d3d6df" />
<text transform="matrix(0.85,0.44,0,1,983.3,132.9)" font-family="Liberation Sans, sans-serif" font-weight="bold" font-size="33" text-anchor="middle" fill="#1a56d0">$</text>
<circle cx="919.9" cy="127.9" r="10.5" fill="url(#coin)" />
<g transform="translate(921.2,118.9) rotate(8) scale(1,0.46)"><circle r="12" fill="#1d6fe0"/><path d="M0,0 L-6,-10.4 A12,12 0 0 1 8.5,-8.5 Z" fill="#6ab8f0"/><path d="M0,0 L8.5,-8.5 A12,12 0 0 1 11.6,3.1 Z" fill="#f7a51e"/><path d="M0,0 L11.6,3.1 A12,12 0 0 1 6,10.4 Z" fill="#ef4b2f"/></g>
<polyline points="956.9,126.1 966.3,136.9" fill="none" stroke="#1a2a55" stroke-width="1.0" stroke-linecap="round" stroke-linejoin="round"/>
<polygon points="962.8,146.8 970.3,148.8 969.8,162.3 967.3,162.3 966.8,152.3 965.8,161.8 963.1,161.3" fill="#14306e" />
<path d="M963.3,135.4 Q963.3,134.4 964.3,134.6 L969.4,135.6 Q970.3,135.9 970.4,136.9 L971.3,147.6 Q971.3,148.6 970.3,148.4 L963.8,147.5 Q962.8,147.3 962.9,146.3Z" fill="#7f9ed2" />
<polyline points="964.3,136.1 966.8,137.9" fill="none" stroke="#7f9ed2" stroke-width="1.6" stroke-linecap="round" stroke-linejoin="round"/>
<circle cx="966.8" cy="131.4" r="2.0" fill="#f3e2d3" />
<ellipse cx="967.1" cy="129.9" rx="2.4" ry="1.8" fill="#0d1f45" transform="rotate(10.0 967.1 129.9)" />
<polygon points="342.1,191.5 384.1,185.5 384.1,213.5 334.9,222.5" fill="url(#shs334)"/>
<polygon points="316.4,209.5 334.9,219.5 334.9,222.5 316.4,212.5" fill="#b8d3f3" stroke="#b8d3f3" stroke-width="3.0" stroke-linejoin="round"/><polygon points="334.9,219.5 353.4,209.5 353.4,212.5 334.9,222.5" fill="#7fb0ec" stroke="#7fb0ec" stroke-width="3.0" stroke-linejoin="round"/><polygon points="316.4,209.5 334.9,199.5 353.4,209.5 334.9,219.5" fill="#d9e7f9" stroke="#d9e7f9" stroke-width="3.0" stroke-linejoin="round"/>
<g transform="rotate(-6.0 330.1 193.5)"><ellipse cx="333.3" cy="194.1" rx="12.7" ry="17.4" fill="url(#rim)"/><ellipse cx="330.1" cy="193.5" rx="12.7" ry="17.4" fill="url(#coin)"/></g>
<polygon points="197.0,350.5 239.0,344.5 239.0,372.5 189.8,381.5" fill="url(#shs189)"/>
<polygon points="171.3,368.5 189.8,378.5 189.8,381.5 171.3,371.5" fill="#b8d3f3" stroke="#b8d3f3" stroke-width="3.0" stroke-linejoin="round"/><polygon points="189.8,378.5 208.3,368.5 208.3,371.5 189.8,381.5" fill="#7fb0ec" stroke="#7fb0ec" stroke-width="3.0" stroke-linejoin="round"/><polygon points="171.3,368.5 189.8,358.5 208.3,368.5 189.8,378.5" fill="#d9e7f9" stroke="#d9e7f9" stroke-width="3.0" stroke-linejoin="round"/>
<g transform="rotate(-6.0 185.0 352.5)"><ellipse cx="188.2" cy="353.1" rx="12.7" ry="17.4" fill="url(#rim)"/><ellipse cx="185.0" cy="352.5" rx="12.7" ry="17.4" fill="url(#coin)"/></g>
<polygon points="836.8,78.0 878.8,72.0 878.8,100.0 829.6,109.0" fill="url(#shs829)"/>
<polygon points="811.1,96.0 829.6,106.0 829.6,109.0 811.1,99.0" fill="#b8d3f3" stroke="#b8d3f3" stroke-width="3.0" stroke-linejoin="round"/><polygon points="829.6,106.0 848.1,96.0 848.1,99.0 829.6,109.0" fill="#7fb0ec" stroke="#7fb0ec" stroke-width="3.0" stroke-linejoin="round"/><polygon points="811.1,96.0 829.6,86.0 848.1,96.0 829.6,106.0" fill="#d9e7f9" stroke="#d9e7f9" stroke-width="3.0" stroke-linejoin="round"/>
<g transform="rotate(-6.0 824.8 80.0)"><ellipse cx="828.0" cy="80.6" rx="12.7" ry="17.4" fill="url(#rim)"/><ellipse cx="824.8" cy="80.0" rx="12.7" ry="17.4" fill="url(#coin)"/></g>
<path d="M924,103 L895,88 Q872,76 846,87" fill="none" stroke="#b8b6df" stroke-width="1.5" stroke-dasharray="6 5" stroke-linecap="butt"/>
<g transform="translate(330.3,193.8) rotate(-6.0) skewY(14.0) scale(1.12)"><path d="M-6.5,-4 h4 v-1.8 h5 v1.8 h4 v9.5 h-13z M-1.3,-4 h2.6 v-0.8 h-2.6z" fill="#0a0a0a"/><path d="M0,-1.8 l0.9,1.6 1.8,0.3 -1.3,1.3 0.3,1.8 -1.7,-0.9 -1.7,0.9 0.3,-1.8 -1.3,-1.3 1.8,-0.3z" fill="#fff"/></g>
<g transform="translate(185.0,353.0) rotate(-6.0) skewY(14.0) scale(1.20)"><circle cx="0" cy="-4.2" r="3.3" fill="#2272e2"/><path d="M-5.8,6.5 q-0.6,-6.8 3.6,-7.6 q2.2,1.4 4.4,0 q4.2,0.8 3.6,7.6 q-5.8,1.6 -11.6,0z" fill="#2272e2"/></g>
<g transform="translate(824.8,80.3) rotate(-6.0) skewY(14.0) scale(1.20)"><circle cx="0" cy="-5" r="2.1" fill="#0a0a0a"/><path d="M0,-3 v3 M-4.6,2.6 v-2.2 h9.2 v2.2 M0,0.4 v2" stroke="#0a0a0a" stroke-width="1.1" fill="none"/><circle cx="-4.6" cy="4" r="1.9" fill="#0a0a0a"/><circle cx="0" cy="4" r="1.9" fill="#0a0a0a"/><circle cx="4.6" cy="4" r="1.9" fill="#0a0a0a"/></g>
<g transform="translate(630.6,647.8) rotate(0.0) skewY(14.0) scale(1.10)"><circle cx="0" cy="0.8" r="5" fill="#2272e2"/><circle cx="-3.9" cy="-4" r="1.6" fill="#2272e2"/><circle cx="3.9" cy="-4" r="1.6" fill="#2272e2"/><path d="M-3.2,4.8 l-1,1.4 M3.2,4.8 l1,1.4" stroke="#2272e2" stroke-width="1.3" stroke-linecap="round"/><path d="M0,-2 V1.1 H2.2" stroke="#eaf2ff" stroke-width="1" fill="none" stroke-linecap="round"/></g>
<g transform="translate(689.7,599.2) rotate(0.0) skewY(22.0) scale(1.10)"><path d="M-5,-5.5 q2.4,-1 4.6,0.6 q2.2,-1.6 5,-0.6 v11 l-2.6,-2 -2.4,1.6 -2.4,-1.6 -2.2,2z" fill="#2272e2"/><path d="M-2.2,-0.4 l1.8,1.9 3.2,-3.4" stroke="#fff" stroke-width="1.2" fill="none" stroke-linecap="round" stroke-linejoin="round"/></g>
<g transform="translate(745.9,544.6) rotate(0.0) skewY(20.0) scale(1.15)"><circle cx="1.6" cy="-4" r="2.8" fill="#0a0a0a"/><path d="M-3,5.6 q-0.4,-5.8 3,-6.4 q1.6,1 3.2,0 q3.6,0.6 3,6.4 q-4.6,1.2 -9.2,0z" fill="#0a0a0a"/><circle cx="-2" cy="-3" r="2.6" fill="#0a0a0a"/><path d="M-6.4,5.2 q-0.4,-5 2.6,-5.6 q1.8,1 3.4,0 l-2,6 q-2,0.2 -4,-0.4z" fill="#0a0a0a"/></g>
<g transform="translate(803.3,467.7) rotate(0.0) skewY(23.0) scale(1.00)"><path d="M-5.3,4.5 v-5.5 M-2,4.5 v-15.5 M1.6,4.5 v-9.4 M5.2,4.5 v-11.7" stroke="#0a0a0a" stroke-width="2.3" fill="none"/></g>
<polygon points="142.2,449.2 181.8,449.2 174.6,500.4 118.7,500.4" fill="url(#shY)"/>
<path d="M147.6,451.3 L246,509.5" fill="none" stroke="#b8b6df" stroke-width="1.5" stroke-dasharray="6 5" stroke-linecap="butt"/>
<path d="M165.6,390 L130,415" fill="none" stroke="#b8b6df" stroke-width="1.5" stroke-dasharray="6 5" stroke-linecap="butt"/>
<polygon points="91.4,449.0 118.7,462.5 118.7,499.1 91.4,485.6" fill="url(#colL)" stroke="#d6e4fa" stroke-width="3.0" stroke-linejoin="round"/><polygon points="118.7,462.5 143.8,449.0 143.8,485.6 118.7,499.1" fill="url(#colR)" stroke="#7aa8ee" stroke-width="3.0" stroke-linejoin="round"/><polygon points="91.4,449.0 118.7,462.5 118.7,499.1 91.4,485.6" fill="url(#colL)"/><polygon points="118.2,462.5 143.8,449.0 143.8,485.6 118.2,499.1" fill="url(#colR)"/><polygon points="91.4,449.0 116.5,435.5 143.8,449.0 118.7,462.5" fill="#e3edfc" stroke="#e3edfc" stroke-width="3.0" stroke-linejoin="round"/>
<polygon points="92.5,444.1 118.7,457.1 142.2,444.1 142.2,449.5 118.7,463.1 92.5,449.5" fill="#b9c9e0" opacity="0.8"/>
<polygon points="90.2,436.0 118.7,450.4 118.7,454.9 90.2,440.5" fill="#cbdcf5" stroke="#cbdcf5" stroke-width="2.5" stroke-linejoin="round"/><polygon points="118.7,450.4 144.9,436.0 144.9,440.5 118.7,454.9" fill="#a9c6f0" stroke="#a9c6f0" stroke-width="2.5" stroke-linejoin="round"/><polygon points="90.2,436.0 116.4,421.6 144.9,436.0 118.7,450.4" fill="#dfeafa" stroke="#dfeafa" stroke-width="2.5" stroke-linejoin="round"/>
<g transform="rotate(-8.0 114.2 422.5)"><ellipse cx="117.2" cy="423.1" rx="12.6" ry="17.2" fill="url(#rim)"/><ellipse cx="114.2" cy="422.5" rx="12.6" ry="17.2" fill="url(#coin)"/></g>
<g transform="translate(114.2,422.8) rotate(0.0) skewY(8.0) scale(1.15)"><circle r="7" fill="#0a0a0a"/><path d="M-2.8,-4 L0,0 L2.8,-4 M0,0 V4.6 M-2.6,0.4 H2.6 M-2.6,2.4 H2.6" stroke="#fff" stroke-width="1.1" fill="none" stroke-linecap="round"/></g>
<polygon points="937.7,243.3 969.9,239.7 969.9,275.5 926.6,283.3" fill="url(#shRb)"/>
<polygon points="903.3,261.3 926.6,278.8 926.6,282.8 903.3,265.3" fill="#c8daf5" stroke="#c8daf5" stroke-width="2.5" stroke-linejoin="round"/><polygon points="926.6,278.8 949.4,263.3 949.4,267.3 926.6,282.8" fill="#a7c4ee" stroke="#a7c4ee" stroke-width="2.5" stroke-linejoin="round"/><polygon points="903.3,261.3 925.7,248.0 949.4,263.3 926.6,278.8" fill="#dfeafb" stroke="#dfeafb" stroke-width="2.5" stroke-linejoin="round"/>
<polyline points="919.1,252.2 916.6,258.3" fill="none" stroke="#b9bec8" stroke-width="1.6" stroke-linecap="round" stroke-linejoin="round"/>
<polyline points="935.3,252.2 937.7,257.7" fill="none" stroke="#b9bec8" stroke-width="1.6" stroke-linecap="round" stroke-linejoin="round"/>
<ellipse cx="927.2" cy="256.6" rx="7.2" ry="8.2" fill="url(#coin)" transform="rotate(0.0 927.2 256.6)" />
<polyline points="925.0,253.8 930.0,253.3" fill="none" stroke="#3f7fd8" stroke-width="1.2" stroke-linecap="round" stroke-linejoin="round"/>
<ellipse cx="927.2" cy="237.2" rx="11.7" ry="10.8" fill="url(#coin)" transform="rotate(0.0 927.2 237.2)" />
<ellipse cx="927.2" cy="239.1" rx="8.4" ry="5.2" fill="#0c2f6e" transform="rotate(0.0 927.2 239.1)" />
<ellipse cx="922.4" cy="239.4" rx="0.8" ry="1.6" fill="#8fd6fa" transform="rotate(0.0 922.4 239.4)" />
<ellipse cx="931.7" cy="239.4" rx="0.8" ry="1.6" fill="#8fd6fa" transform="rotate(0.0 931.7 239.4)" />
<polygon points="644.0,190.3 677.6,180.4 686.7,207.1 641.0,222.3" fill="url(#shC)"/>
<polygon points="620.4,215.5 637.2,220.8 637.2,224.6 620.4,219.3" fill="#b9cdef" stroke="#b9cdef" stroke-width="2.5" stroke-linejoin="round"/><polygon points="637.2,220.8 662.3,205.6 662.3,209.4 637.2,224.6" fill="#9fb9e6" stroke="#9fb9e6" stroke-width="2.5" stroke-linejoin="round"/><polygon points="620.4,215.5 644.0,191.1 662.3,205.6 637.2,220.8" fill="#d7e4f8" stroke="#d7e4f8" stroke-width="2.5" stroke-linejoin="round"/>
<polyline points="631.1,204.8 617.4,208.6 612.8,229.2" fill="none" stroke="#143a80" stroke-width="5.0" stroke-linecap="round" stroke-linejoin="round"/>
<polyline points="625.7,204.0 612.8,206.3 605.9,224.6" fill="none" stroke="#11306c" stroke-width="5.0" stroke-linecap="round" stroke-linejoin="round"/>
<ellipse cx="604.7" cy="226.9" rx="4.2" ry="2.6" fill="#0f2a60" transform="rotate(-25.0 604.7 226.9)" />
<ellipse cx="611.4" cy="231.5" rx="4.2" ry="2.6" fill="#0f2a60" transform="rotate(-25.0 611.4 231.5)" />
<polygon points="614.3,200.2 624.5,198.7 629.1,204.8 616.6,209.4" fill="#2b8be8" />
<polygon points="601.8,194.1 614.3,200.2 616.3,209.4 604.4,203.3" fill="#1d4590" />
<path d="M624.0,177.3 Q624.5,175.4 626.4,176.0 L636.1,179.3 Q637.9,180.0 638.1,181.9 L639.0,198.2 Q639.2,200.2 637.3,201.0 L632.2,203.0 Q630.3,203.7 628.6,202.8 L622.6,199.6 Q620.9,198.7 621.0,196.7 L621.4,187.7 Q621.5,185.7 622.0,183.8Z" fill="#f7f8fd" />
<polyline points="624.5,176.9 621.8,185.7" fill="none" stroke="#0f2c6e" stroke-width="4.4" stroke-linecap="round" stroke-linejoin="round"/>
<polyline points="637.0,183.5 635.2,194.1" fill="none" stroke="#0f2c6e" stroke-width="5.0" stroke-linecap="round" stroke-linejoin="round"/>
<polyline points="621.5,187.0 616.3,196.1" fill="none" stroke="#f3e2d3" stroke-width="2.2" stroke-linecap="round" stroke-linejoin="round"/>
<polyline points="634.6,195.2 624.2,203.7" fill="none" stroke="#f3e2d3" stroke-width="2.4" stroke-linecap="round" stroke-linejoin="round"/>
<polygon points="629.1,170.5 633.4,171.3 633.1,176.6 629.6,176.0" fill="#f3e2d3" />
<ellipse cx="631.1" cy="169.3" rx="4.0" ry="4.6" fill="#f3e2d3" transform="rotate(0.0 631.1 169.3)" />
<ellipse cx="632.6" cy="164.4" rx="6.4" ry="5.4" fill="#0d1f45" transform="rotate(10.0 632.6 164.4)" />
<ellipse cx="394.8" cy="152.4" rx="16.6" ry="9.0" fill="#c8cdee" transform="rotate(0.0 394.8 152.4)" />
<polygon points="383.0,128.2 389.7,128.9 388.8,142.1 388.0,151.5 390.8,152.9 390.2,155.4 384.4,157.6 383.0,153.1 383.3,142.1" fill="#164a98" />
<polygon points="389.7,128.9 398.0,128.2 400.3,137.9 401.3,149.4 405.2,149.0 406.3,151.5 401.3,154.5 398.3,154.0 396.2,139.3 392.0,131.0" fill="#164a98" />
<polyline points="404.1,104.1 394.9,91.1" fill="none" stroke="#f1ead6" stroke-width="1.7" stroke-linecap="round" stroke-linejoin="round"/>
<polygon points="387.2,95.6 392.7,95.6 393.4,101.2 387.9,101.9" fill="#f1ead6" />
<path d="M381.4,103.5 Q381.6,102.6 382.5,102.1 L386.3,99.9 Q387.2,99.4 388.2,99.4 L392.4,99.7 Q393.4,99.8 394.4,100.0 L397.3,100.6 Q398.3,100.8 399.2,101.1 L404.5,102.9 Q405.5,103.3 405.7,104.2 L406.0,105.3 Q406.3,106.3 405.4,106.8 L404.7,107.2 Q403.8,107.7 402.8,107.5 L398.7,106.5 Q397.7,106.3 397.6,107.3 L397.2,114.7 Q397.1,115.7 397.2,116.7 L398.2,128.3 Q398.3,129.3 397.3,129.3 L383.7,129.3 Q382.7,129.3 382.7,128.3 L382.4,116.7 Q382.3,115.7 381.9,114.8 L380.4,111.1 Q380.0,110.2 380.2,109.2Z" fill="#1a55a8" />
<path d="M383.8,90.6 Q383.7,89.4 384.2,88.3 L385.2,86.3 Q385.8,85.2 386.9,84.8 L390.9,83.2 Q392.0,82.7 393.0,83.5 L393.4,83.8 Q394.4,84.5 394.0,85.7 L393.1,88.3 Q392.7,89.4 392.4,90.5 L391.1,94.6 Q390.8,95.8 389.6,95.5 L387.7,95.2 Q386.5,94.9 385.6,94.1 L385.0,93.7 Q384.1,92.9 384.0,91.7Z" fill="#1a55a8" />
<g transform="translate(35.7,42.5) scale(1.0000)" fill="#1053cf"><rect x="0.0" y="0.0" width="36.7" height="36.7"/><rect x="10.0" y="10.0" width="16.6" height="16.6" fill="#fff"/><rect x="13.9" y="13.9" width="8.9" height="8.9"/><rect x="40.0" y="0.0" width="36.7" height="36.7"/><rect x="50.0" y="10.0" width="16.6" height="16.6" fill="#fff"/><rect x="53.9" y="13.9" width="8.9" height="8.9"/><rect x="0.0" y="40.0" width="36.7" height="36.7"/><rect x="10.0" y="50.0" width="16.6" height="16.6" fill="#fff"/><rect x="13.9" y="53.9" width="8.9" height="8.9"/><rect x="40.1" y="40.5" width="9.4" height="8.7"/><rect x="47.4" y="48.5" width="9.0" height="17.4"/><rect x="67.3" y="40.5" width="9.3" height="10.8"/><rect x="67.3" y="57.5" width="9.3" height="19.9"/><rect x="40.1" y="67.7" width="7.3" height="9.7"/><rect x="56.4" y="67.7" width="20.2" height="9.7"/></g>
<g transform="translate(133.0,151.5) scale(0.5809)" fill="#1053cf"><rect x="0.0" y="0.0" width="36.7" height="36.7"/><rect x="10.0" y="10.0" width="16.6" height="16.6" fill="#fff"/><rect x="13.9" y="13.9" width="8.9" height="8.9"/><rect x="40.0" y="0.0" width="36.7" height="36.7"/><rect x="50.0" y="10.0" width="16.6" height="16.6" fill="#fff"/><rect x="53.9" y="13.9" width="8.9" height="8.9"/><rect x="0.0" y="40.0" width="36.7" height="36.7"/><rect x="10.0" y="50.0" width="16.6" height="16.6" fill="#fff"/><rect x="13.9" y="53.9" width="8.9" height="8.9"/><rect x="40.1" y="40.5" width="9.4" height="8.7"/><rect x="47.4" y="48.5" width="9.0" height="17.4"/><rect x="67.3" y="40.5" width="9.3" height="10.8"/><rect x="67.3" y="57.5" width="9.3" height="19.9"/><rect x="40.1" y="67.7" width="7.3" height="9.7"/><rect x="56.4" y="67.7" width="20.2" height="9.7"/></g>
<circle cx="84.5" cy="300" r="4.2" fill="#3b40cf"/><circle cx="373.7" cy="189.3" r="4.2" fill="#3b40cf"/>
<circle cx="46.0" cy="218.0" r="28.0" fill="#cfcff6"/><circle cx="46.0" cy="218.0" r="25.5" fill="#1053cf"/>
<text class="c" x="30.00" y="223.76" font-size="16" font-weight="500" fill="#fff">入职</text>
<circle cx="463.3" cy="35.3" r="28.0" fill="#cfcff6"/><circle cx="463.3" cy="35.3" r="25.5" fill="#1053cf"/>
<text class="c" x="447.30" y="41.06" font-size="16" font-weight="500" fill="#fff">离职</text>
<circle cx="726.5" cy="50.0" r="28.0" fill="#cfcff6"/><circle cx="726.5" cy="50.0" r="25.5" fill="#1053cf"/>
<text class="c" x="710.50" y="45.76" font-size="16" font-weight="500" fill="#fff">调薪</text>
<text class="c" x="710.50" y="65.76" font-size="16" font-weight="500" fill="#fff">调岗</text>
<circle cx="1028.5" cy="240.2" r="28.0" fill="#cfcff6"/><circle cx="1028.5" cy="240.2" r="25.5" fill="#1053cf"/>
<text class="c" x="1012.50" y="245.96" font-size="16" font-weight="500" fill="#fff">绩效</text>
<circle cx="920.0" cy="352.6" r="28.0" fill="#cfcff6"/><circle cx="920.0" cy="352.6" r="25.5" fill="#1053cf"/>
<text class="c" x="904.00" y="358.36" font-size="16" font-weight="500" fill="#fff">学习</text>
<circle cx="464.8" cy="480.5" r="28.0" fill="#cfcff6"/><circle cx="464.8" cy="480.5" r="25.5" fill="#1053cf"/>
<text class="c" x="448.80" y="486.26" font-size="16" font-weight="500" fill="#fff">转正</text>
<path d="M301.4,127.1 H360.4 a2.2,2.2 0 0 1 2.2,2.2 V150.9 a2.2,2.2 0 0 1 -2.2,2.2 H334.7 l-3.4,4.4 l-3.4,-4.4 H301.4 a2.2,2.2 0 0 1 -2.2,-2.2 V129.3 a2.2,2.2 0 0 1 2.2,-2.2z" fill="#1053cf"/>
<text class="c" x="304.80" y="144.28" font-size="13" font-weight="500" fill="#fff">离职调研</text>
<path d="M164.4,238.0 H207.7 a2.2,2.2 0 0 1 2.2,2.2 V262.7 a2.2,2.2 0 0 1 -2.2,2.2 H189.4 l-3.4,4.4 l-3.4,-4.4 H164.4 a2.2,2.2 0 0 1 -2.2,-2.2 V240.2 a2.2,2.2 0 0 1 2.2,-2.2z" fill="#1053cf"/>
<text class="c" x="172.90" y="256.08" font-size="13" font-weight="500" fill="#fff">职位</text>
<path d="M95.9,334.5 H139.3 a2.2,2.2 0 0 1 2.2,2.2 V357.9 a2.2,2.2 0 0 1 -2.2,2.2 H121.0 l-3.4,4.4 l-3.4,-4.4 H95.9 a2.2,2.2 0 0 1 -2.2,-2.2 V336.7 a2.2,2.2 0 0 1 2.2,-2.2z" fill="#1053cf"/>
<text class="c" x="104.40" y="352.28" font-size="13" font-weight="500" fill="#fff">薪资</text>
<path d="M808.3,124.0 H852.7 a2.2,2.2 0 0 1 2.2,2.2 V147.9 a2.2,2.2 0 0 1 -2.2,2.2 H835.7 l-3.4,4.4 l-3.4,-4.4 H808.3 a2.2,2.2 0 0 1 -2.2,-2.2 V126.2 a2.2,2.2 0 0 1 2.2,-2.2z" fill="#1053cf"/>
<text class="c" x="817.60" y="141.68" font-size="13" font-weight="500" fill="#fff">组织</text>
<path d="M774.1,368.1 H832.9 a2.2,2.2 0 0 1 2.2,2.2 V391.7 a2.2,2.2 0 0 1 -2.2,2.2 H807.5 l-3.4,4.4 l-3.4,-4.4 H774.1 a2.2,2.2 0 0 1 -2.2,-2.2 V370.3 a2.2,2.2 0 0 1 2.2,-2.2z" fill="#1053cf"/>
<text class="c" x="777.40" y="385.48" font-size="13" font-weight="500" fill="#fff">报表中心</text>
<path d="M712.2,436.5 H771.6 a2.2,2.2 0 0 1 2.2,2.2 V459.9 a2.2,2.2 0 0 1 -2.2,2.2 H745.8 l-3.4,4.4 l-3.4,-4.4 H712.2 a2.2,2.2 0 0 1 -2.2,-2.2 V438.7 a2.2,2.2 0 0 1 2.2,-2.2z" fill="#1053cf"/>
<text class="c" x="716.00" y="453.48" font-size="13" font-weight="500" fill="#fff">员工自助</text>
<path d="M673.3,503.1 H712.9 a2.2,2.2 0 0 1 2.2,2.2 V527.0 a2.2,2.2 0 0 1 -2.2,2.2 H697.1 l-3.4,4.4 l-3.4,-4.4 H673.3 a2.2,2.2 0 0 1 -2.2,-2.2 V505.3 a2.2,2.2 0 0 1 2.2,-2.2z" fill="#1053cf"/>
<text class="c" x="680.00" y="520.48" font-size="13" font-weight="500" fill="#fff">考勤</text>
<path d="M593.3,542.5 H652.0 a2.2,2.2 0 0 1 2.2,2.2 V566.2 a2.2,2.2 0 0 1 -2.2,2.2 H626.5 l-3.4,4.4 l-3.4,-4.4 H593.3 a2.2,2.2 0 0 1 -2.2,-2.2 V544.7 a2.2,2.2 0 0 1 2.2,-2.2z" fill="#1053cf"/>
<text class="c" x="596.60" y="559.68" font-size="13" font-weight="500" fill="#fff">加班休假</text>
<path d="M311,310.5 H480.5 a3,3 0 0 1 3,3 V376.5 a3,3 0 0 1 -3,3 H353.5 L346.1,388.8 L342,379.5 H311 a3,3 0 0 1 -3,-3 V313.5 a3,3 0 0 1 3,-3z" fill="#1053cf"/>
<text class="c" x="318.00" y="340.60" font-size="17.6" font-weight="bold" fill="#fff">试用期管理</text>
<text class="c" x="318.30" y="360.59" font-size="10.8" fill="#fff">事务提醒、结果通知、人性操作</text>
<text class="c" x="21.60" y="264.32" font-size="12" fill="#333">扫码入职</text>
<text class="c" x="21.60" y="279.32" font-size="12" fill="#333">快捷高效</text>
<text class="c" x="439.30" y="85.32" font-size="12" fill="#333">离职动因</text>
<text class="c" x="439.30" y="100.82" font-size="12" fill="#333">可视分析</text>
<text class="c" x="702.00" y="97.72" font-size="12" fill="#333">入职匹配</text>
<text class="c" x="702.00" y="112.52" font-size="12" fill="#333">异动管理</text>
<text class="c" x="1007.30" y="290.22" font-size="12" fill="#333">人才矩阵</text>
<text class="c" x="1007.30" y="304.62" font-size="12" fill="#333">测评分析</text>
<text class="c" x="898.10" y="400.82" font-size="12" fill="#333">学以致用</text>
<text class="c" x="898.10" y="416.32" font-size="12" fill="#333">能力提升</text>
<text class="c" x="164.80" y="291.02" font-size="12" fill="#666">职位管理</text>
<text class="c" x="164.80" y="306.32" font-size="12" fill="#666">权限设置</text>
<text class="c" x="164.80" y="321.62" font-size="12" fill="#666">分级可控</text>
<text class="c" x="92.10" y="381.62" font-size="12" fill="#666">薪资个税</text>
<text class="c" x="92.10" y="396.42" font-size="12" fill="#666">紧缺合规</text>
<text class="c" x="811.00" y="175.12" font-size="12" fill="#666">组织结构</text>
<text class="c" x="811.00" y="190.82" font-size="12" fill="#666">自由拖拽</text>
<text class="c" x="811.00" y="206.52" font-size="12" fill="#666">轻松配置</text>
<text class="c" x="782.00" y="415.22" font-size="12" fill="#666">个性报表</text>
<text class="c" x="782.00" y="429.52" font-size="12" fill="#666">一键生成</text>
<text class="c" x="722.00" y="487.32" font-size="12" fill="#666">员工自助</text>
<text class="c" x="722.00" y="502.92" font-size="12" fill="#666">省心省力</text>
<text class="c" x="670.40" y="552.72" font-size="12" fill="#666">时间管理</text>
<text class="c" x="670.40" y="567.92" font-size="12" fill="#666">智能高效</text>
<text class="c" x="602.00" y="594.52" font-size="12" fill="#666">加班调休</text>
<text class="c" x="602.00" y="609.82" font-size="12" fill="#666">在线管理</text>
<text class="c" x="443.60" y="532.82" font-size="12" fill="#666">绩效考核</text>
<text class="c" x="443.60" y="547.82" font-size="12" fill="#666">计划清晰</text>
<text class="c" x="443.60" y="562.82" font-size="12" fill="#666">指标明确</text>
<text class="c" x="443.60" y="577.82" font-size="12" fill="#666">运作透明</text>
<path transform="rotate(50.0 80.5 193.5)" d="M80.5,187.0 Q80.5,193.5 87.0,193.5 Q80.5,193.5 80.5,200.0 Q80.5,193.5 74.0,193.5 Q80.5,193.5 80.5,187.0 z" fill="#4450d6" stroke="#4450d6" stroke-width="1" stroke-linejoin="round"/>
<circle cx="84.5" cy="185.2" r="2.1" fill="#4450d6"/>
<path transform="rotate(50.0 199.5 162.0)" d="M199.5,157.2 Q199.5,162.0 204.3,162.0 Q199.5,162.0 199.5,166.8 Q199.5,162.0 194.7,162.0 Q199.5,162.0 199.5,157.2 z" fill="#4450d6" stroke="#4450d6" stroke-width="1" stroke-linejoin="round"/>
<circle cx="191.5" cy="154.5" r="1.6" fill="#4450d6"/>
<path transform="rotate(50.0 495.0 14.0)" d="M495.0,7.5 Q495.0,14.0 501.5,14.0 Q495.0,14.0 495.0,20.5 Q495.0,14.0 488.5,14.0 Q495.0,14.0 495.0,7.5 z" fill="#4450d6" stroke="#4450d6" stroke-width="1" stroke-linejoin="round"/>
<circle cx="499.0" cy="5.5" r="2.1" fill="#4450d6"/>
<path transform="rotate(50.0 765.0 37.5)" d="M765.0,31.0 Q765.0,37.5 771.5,37.5 Q765.0,37.5 765.0,44.0 Q765.0,37.5 758.5,37.5 Q765.0,37.5 765.0,31.0 z" fill="#4450d6" stroke="#4450d6" stroke-width="1" stroke-linejoin="round"/>
<circle cx="769.5" cy="29.5" r="2.1" fill="#4450d6"/>
<path transform="rotate(50.0 1058.5 211.5)" d="M1058.5,205.0 Q1058.5,211.5 1065.0,211.5 Q1058.5,211.5 1058.5,218.0 Q1058.5,211.5 1052.0,211.5 Q1058.5,211.5 1058.5,205.0 z" fill="#4450d6" stroke="#4450d6" stroke-width="1" stroke-linejoin="round"/>
<circle cx="1062.5" cy="203.0" r="2.1" fill="#4450d6"/>
<path transform="rotate(50.0 959.0 336.0)" d="M959.0,329.5 Q959.0,336.0 965.5,336.0 Q959.0,336.0 959.0,342.5 Q959.0,336.0 952.5,336.0 Q959.0,336.0 959.0,329.5 z" fill="#4450d6" stroke="#4450d6" stroke-width="1" stroke-linejoin="round"/>
<circle cx="963.0" cy="327.5" r="2.1" fill="#4450d6"/>
<path transform="rotate(50.0 505.0 462.0)" d="M505.0,455.5 Q505.0,462.0 511.5,462.0 Q505.0,462.0 505.0,468.5 Q505.0,462.0 498.5,462.0 Q505.0,462.0 505.0,455.5 z" fill="#4450d6" stroke="#4450d6" stroke-width="1" stroke-linejoin="round"/>
<circle cx="509.5" cy="453.5" r="2.1" fill="#4450d6"/>
<path transform="rotate(50.0 549.2 619.9)" d="M549.2,610.9 Q549.2,619.9 558.2,619.9 Q549.2,619.9 549.2,628.9 Q549.2,619.9 540.2,619.9 Q549.2,619.9 549.2,610.9 z" fill="#4450d6" stroke="#4450d6" stroke-width="1" stroke-linejoin="round"/>
<circle cx="555.6" cy="607.6" r="3.0" fill="#4450d6"/>
<polygon points="519.9,92.5 526.2,83.2 527.3,85.5 542.8,80.1 547.9,84.4 532.4,90.6 536.1,92.5" fill="#3a3fcf"/>
<polygon points="497.0,87.3 501.1,81.8 502.2,83.2 512.1,79.6 515.1,81.8 505.9,85.8 507.3,87.3" fill="#f7b716"/>
<polygon points="884.7,92.1 900.9,94.3 896.5,96.0 910.5,102.7 904.6,106.9 892.1,100.1 888.4,101.7" fill="#3a3fcf"/>
<polygon points="866.6,95.1 877.3,96.5 875.5,97.5 883.2,101.6 879.9,104.2 872.5,100.1 869.2,100.5" fill="#f7b716"/>
<polygon points="193.5,496.7 188.7,487.1 186.2,489.3 172.9,481.2 166.8,485.1 179.5,493.0 176.2,494.7" fill="#3a3fcf"/>
<polygon points="191.7,510.6 189.1,505.3 187.3,506.5 178.4,501.7 175.1,503.8 183.9,508.7 181.4,509.9" fill="#f7b716"/>
<polygon points="877.8,542.6 861.4,544.6 864.0,546.5 852.2,553.4 857.7,558.6 870.3,551.6 872.5,553.4" fill="#3a3fcf"/>
<polygon points="898.3,546.0 888.3,547.0 890.2,548.2 883.5,552.5 886.1,555.4 894.2,550.5 895.7,551.9" fill="#f7b716"/></svg>
</body></html>
